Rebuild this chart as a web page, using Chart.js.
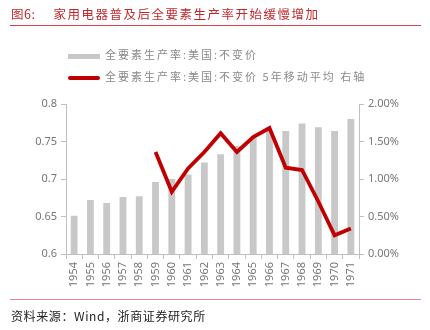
<!DOCTYPE html>
<html>
<head>
<meta charset="utf-8">
<script src="https://cdn.jsdelivr.net/npm/chart.js@4"></script>
<style>
  body { margin: 0; width: 430px; height: 330px; background: #fff; position: relative; overflow: hidden;
         font-family: "Noto Sans CJK SC", "Noto Sans", sans-serif; }
  #title { position: absolute; left: 11px; top: 4px; font-size: 12.5px; color: #c0282d; white-space: nowrap; letter-spacing: 1.5px; }
  #title .num { margin-right: 18px; letter-spacing: 0.5px; }
  #topline { position: absolute; left: 10px; top: 25px; width: 411px; height: 1px; background: #d9414a; }
  .leg { position: absolute; left: 68px; font-size: 11px; color: #8a8a8a; white-space: nowrap; letter-spacing: 2px; }
  .leg i { display: inline-block; width: 32px; margin-right: 5px; vertical-align: middle; }
  #botline { position: absolute; left: 10px; top: 299px; width: 411px; height: 1px; background: #e8888c; }
  #source { position: absolute; left: 11px; top: 307px; font-size: 12px; color: #222; white-space: nowrap; letter-spacing: 0.6px; }
  #wrap { position: absolute; left: 0; top: 0; width: 430px; height: 330px; }
</style>
</head>
<body>
<div id="wrap"><canvas id="myChart" width="430" height="330"></canvas></div>
<div id="title"><span class="num">图6:</span>家用电器普及后全要素生产率开始缓慢增加</div>
<div id="topline"></div>
<div class="leg" style="top:46px"><i style="height:5px;background:#c8c8c8"></i>全要素生产率:美国:不变价</div>
<div class="leg" style="top:68px"><i style="height:4px;background:#c00000;border-radius:2px"></i>全要素生产率:美国:不变价 5年移动平均 右轴</div>
<div id="botline"></div>
<div id="source">资料来源：Wind，浙商证券研究所</div>
<script>
var years = ["1954", "1955", "1956", "1957", "1958", "1959", "1960", "1961", "1962",
             "1963", "1964", "1965", "1966", "1967", "1968", "1969", "1970", "1971"];
var tfp = [0.651, 0.672, 0.668, 0.676, 0.677, 0.696, 0.700, 0.706, 0.722,
           0.733, 0.744, 0.755, 0.764, 0.764, 0.774, 0.769, 0.764, 0.780];
// 5 year moving average, percent, right axis
var tfpAvg = [null, null, null, null, null, 1.36, 0.83, 1.14, 1.36,
              1.61, 1.36, 1.56, 1.68, 1.15, 1.12, 0.70, 0.25, 0.34];
var leftTicks = [0.6, 0.65, 0.7, 0.75, 0.8];
var rightTicks = [0, 0.5, 1, 1.5, 2];

var tickFont = { family: "'Noto Sans', 'Liberation Sans', sans-serif", size: 11 };
var gray = '#bfbfbf';

var ctx = document.getElementById("myChart");
let chart = new Chart(ctx, {
    type: 'bar',
    data: {
        labels: years,
        datasets: [{
            type: 'line',
            label: "全要素生产率:美国:不变价 5年移动平均 右轴",
            data: tfpAvg,
            yAxisID: 'y1',
            borderColor: '#c00000',
            borderWidth: 3.8,
            pointRadius: 0,
            tension: 0,
            borderJoinStyle: 'miter',
            order: 0
        }, {
            label: "全要素生产率:美国:不变价",
            data: tfp,
            yAxisID: 'y',
            backgroundColor: '#c8c8c8',
            barPercentage: 0.42,
            categoryPercentage: 1,
            order: 1
        }]
    },
    options: {
        responsive: false,
        animation: false,
        layout: { padding: { top: 104, left: 0, right: 0, bottom: 0 } },
        plugins: { legend: { display: false }, tooltip: { enabled: false } },
        scales: {
            x: {
                offset: true,
                grid: { drawOnChartArea: false, offset: true, color: gray, tickLength: 5 },
                border: { color: gray },
                ticks: { color: '#777', font: tickFont, minRotation: 90, maxRotation: 90, autoSkip: false, padding: 3 },
                afterFit: function(s) { s.height = 76; }
            },
            y: {
                position: 'left',
                min: 0.6, max: 0.8,
                afterBuildTicks: function(s) { s.ticks = leftTicks.map(function(v) { return { value: v }; }); },
                grid: { drawOnChartArea: false, color: gray, tickLength: 5 },
                border: { color: gray },
                ticks: { color: '#777', font: tickFont, padding: 4,
                         callback: function(v) { return String(Math.round(v * 100) / 100); } },
                afterFit: function(s) { s.width = 66; }
            },
            y1: {
                position: 'right',
                min: 0, max: 2,
                afterBuildTicks: function(s) { s.ticks = rightTicks.map(function(v) { return { value: v }; }); },
                grid: { drawOnChartArea: false, color: gray, tickLength: 5 },
                border: { color: gray },
                ticks: { color: '#777', font: tickFont, padding: 4,
                         callback: function(v) { return v.toFixed(2) + '%'; } },
                afterFit: function(s) { s.width = 71; }
            }
        }
    }
});
</script>
</body>
</html>
